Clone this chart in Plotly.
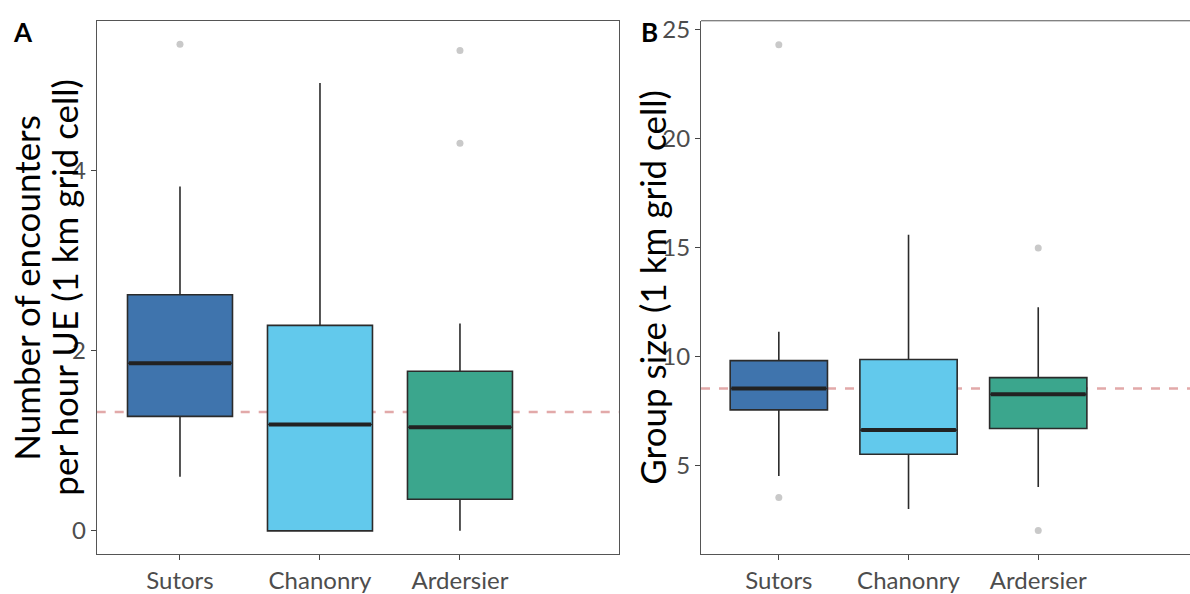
import plotly.graph_objects as go

sites = ["Sutors", "Chanonry", "Ardersier"]
colors = ["#3F74AD", "#62C9EC", "#3BA68D"]

# Panel A: encounters per hour UE
a_q1 = [1.27, 0.00, 0.35]
a_median = [1.86, 1.18, 1.15]
a_q3 = [2.62, 2.28, 1.77]
a_lower = [0.60, 0.00, 0.00]
a_upper = [3.82, 4.97, 2.30]
a_out_x = [0, 2, 2]
a_out_y = [5.40, 5.33, 4.30]
a_mean = 1.32

# Panel B: group size
b_q1 = [7.56, 5.52, 6.70]
b_median = [8.54, 6.63, 8.27]
b_q3 = [9.82, 9.87, 9.04]
b_lower = [4.52, 3.01, 4.02]
b_upper = [11.15, 15.60, 12.27]
b_out_x = [0, 0, 2, 2]
b_out_y = [24.32, 3.53, 14.99, 2.02]
b_mean = 8.54

BOXW = 0.75
FONT = "Lato"
W, H = 1190, 594

fig = go.Figure()

def add_panel(q1, med, q3, lo, up, ox, oy, xa, ya):
    for i in range(len(sites)):
        fig.add_trace(go.Box(
            x=[i], q1=[q1[i]], median=[med[i]], q3=[q3[i]],
            lowerfence=[lo[i]], upperfence=[up[i]],
            width=BOXW, whiskerwidth=0, boxpoints=False,
            fillcolor=colors[i], line=dict(color="#2b2b2b", width=1.6),
            xaxis=xa, yaxis=ya, showlegend=False, hoverinfo="skip"))
        fig.add_trace(go.Scatter(
            x=[i - BOXW / 2 + 0.01, i + BOXW / 2 - 0.01], y=[med[i], med[i]],
            mode="lines", line=dict(color="#222222", width=4),
            xaxis=xa, yaxis=ya, showlegend=False, hoverinfo="skip"))
    fig.add_trace(go.Scatter(
        x=ox, y=oy, mode="markers",
        marker=dict(color="#c9c9c9", size=7),
        xaxis=xa, yaxis=ya, showlegend=False, hoverinfo="skip"))

add_panel(a_q1, a_median, a_q3, a_lower, a_upper, a_out_x, a_out_y, "x", "y")
add_panel(b_q1, b_median, b_q3, b_lower, b_upper, b_out_x, b_out_y, "x2", "y2")

ytop = 1 - 15 / H
ybot = 1 - 556.7 / H
ymid = 1 - 286 / H
tickfont = dict(family=FONT, size=24, color="#4d4d4d")
common = dict(showgrid=False, zeroline=False, showline=True, linecolor="#555555",
              linewidth=1, ticks="outside", ticklen=5, tickcolor="#444444",
              tickwidth=1, tickfont=tickfont)
titlefont = dict(family=FONT, size=35, color="black")

fig.update_layout(
    width=W, height=H, margin=dict(l=0, r=0, t=0, b=0),
    paper_bgcolor="white", plot_bgcolor="white", boxmode="overlay",
    xaxis=dict(domain=[96.7 / W, 619 / W], range=[-0.595, 3.136],
               tickvals=[0, 1, 2], ticktext=sites, mirror=True, anchor="y", **common),
    yaxis=dict(domain=[ybot, ytop], range=[-0.26, 5.66], tickvals=[0, 2, 4],
               mirror=True, anchor="x", **common),
    xaxis2=dict(domain=[701 / W, 1.0], range=[-0.6, 3.17],
                tickvals=[0, 1, 2], ticktext=sites, anchor="y2", **common),
    yaxis2=dict(domain=[ybot, ytop], range=[0.93, 25.42], tickvals=[5, 10, 15, 20, 25],
                anchor="x2", **common),
    shapes=[
        dict(type="line", xref="x domain", yref="y", x0=0, x1=1, y0=a_mean, y1=a_mean,
             line=dict(color="#E2A9A9", width=2.5, dash="dash"), layer="below"),
        dict(type="line", xref="x2 domain", yref="y2", x0=0, x1=1, y0=b_mean, y1=b_mean,
             line=dict(color="#E2A9A9", width=2.5, dash="dash"), layer="below"),
        dict(type="line", xref="x2 domain", yref="y2 domain", x0=0, x1=1, y0=1, y1=1,
             line=dict(color="#555555", width=1)),
    ],
    annotations=[
        dict(text="<b>A</b>", x=11 / W, y=1 - 26 / H, xref="paper", yref="paper",
             xanchor="left", yanchor="middle", showarrow=False,
             font=dict(family=FONT, size=26, color="black")),
        dict(text="<b>B</b>", x=639 / W, y=1 - 26 / H, xref="paper", yref="paper",
             xanchor="left", yanchor="middle", showarrow=False,
             font=dict(family=FONT, size=26, color="black")),
        dict(text="Number of encounters",
             x=26 / W, y=ymid, xref="paper", yref="paper",
             xanchor="center", yanchor="middle", textangle=-90, showarrow=False,
             font=titlefont),
        dict(text="per hour UE (1 km grid cell)",
             x=64 / W, y=ymid, xref="paper", yref="paper",
             xanchor="center", yanchor="middle", textangle=-90, showarrow=False,
             font=titlefont),
        dict(text="Group size (1 km grid cell)",
             x=652 / W, y=ymid, xref="paper", yref="paper",
             xanchor="center", yanchor="middle", textangle=-90, showarrow=False,
             font=titlefont),
    ],
)

fig.write_html("out.html", config={"displayModeBar": False},
               post_script="document.body.style.margin='0';document.body.style.padding='0';")
